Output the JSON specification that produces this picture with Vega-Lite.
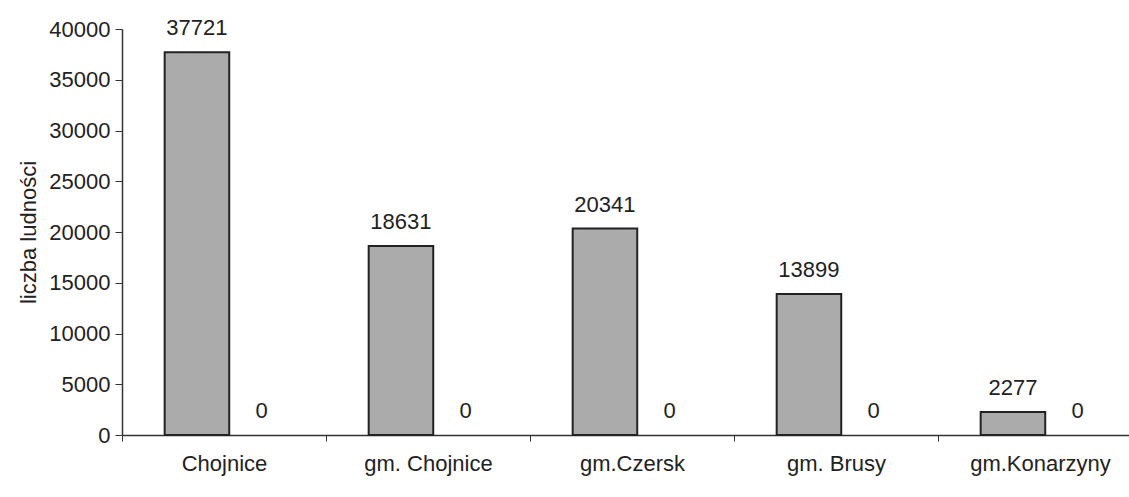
{
  "$schema": "https://vega.github.io/schema/vega-lite/v6.json",
  "autosize": "none",
  "width": 1020,
  "height": 406,
  "padding": {"left": 122, "top": 29, "right": 0, "bottom": 62},
  "background": "white",
  "config": {
    "view": {"stroke": null},
    "font": "Liberation Sans",
    "axis": {"labelFont": "Liberation Sans", "titleFont": "Liberation Sans", "domainColor": "#333", "tickColor": "#333", "labelColor": "#222", "titleColor": "#222", "grid": false}
  },
  "data": {
    "values": [
      {"gmina": "Chojnice", "seria": "a", "ludnosc": 37721},
      {"gmina": "Chojnice", "seria": "b", "ludnosc": 0},
      {"gmina": "gm. Chojnice", "seria": "a", "ludnosc": 18631},
      {"gmina": "gm. Chojnice", "seria": "b", "ludnosc": 0},
      {"gmina": "gm.Czersk", "seria": "a", "ludnosc": 20341},
      {"gmina": "gm.Czersk", "seria": "b", "ludnosc": 0},
      {"gmina": "gm. Brusy", "seria": "a", "ludnosc": 13899},
      {"gmina": "gm. Brusy", "seria": "b", "ludnosc": 0},
      {"gmina": "gm.Konarzyny", "seria": "a", "ludnosc": 2277},
      {"gmina": "gm.Konarzyny", "seria": "b", "ludnosc": 0}
    ]
  },
  "encoding": {
    "x": {
      "field": "gmina", "type": "nominal", "sort": null,
      "scale": {"paddingInner": 0, "paddingOuter": 0},
      "axis": {"title": null, "labelAngle": 0, "labelFontSize": 22, "labelPadding": 12, "tickBand": "extent", "tickSize": 6, "domainWidth": 1.5, "labelOverlap": false}
    },
    "xOffset": {"field": "seria", "type": "nominal", "scale": {"domain": ["a", "b"], "paddingInner": 0, "paddingOuter": 0.58, "align": 0.57}},
    "y": {
      "field": "ludnosc", "type": "quantitative",
      "scale": {"domain": [0, 40000]},
      "axis": {"title": "liczba ludności", "titleFontSize": 22, "titleFontWeight": "normal", "titlePadding": 8, "labelFontSize": 22, "format": "d", "labelOverlap": false, "labelFlush": false, "values": [0,5000,10000,15000,20000,25000,30000,35000,40000], "tickSize": 7, "labelPadding": 5, "domainWidth": 1.5}
    }
  },
  "layer": [
    {
      "transform": [{"filter": "datum.seria == 'a'"}],
      "mark": {"type": "bar", "fill": "#ababab", "stroke": "#222", "strokeWidth": 2}
    },
    {
      "mark": {"type": "text", "fontSize": 22, "baseline": "bottom", "dy": -12, "color": "#222", "font": "Liberation Sans"},
      "encoding": {"text": {"field": "ludnosc", "type": "quantitative", "format": "d"}}
    }
  ]
}
